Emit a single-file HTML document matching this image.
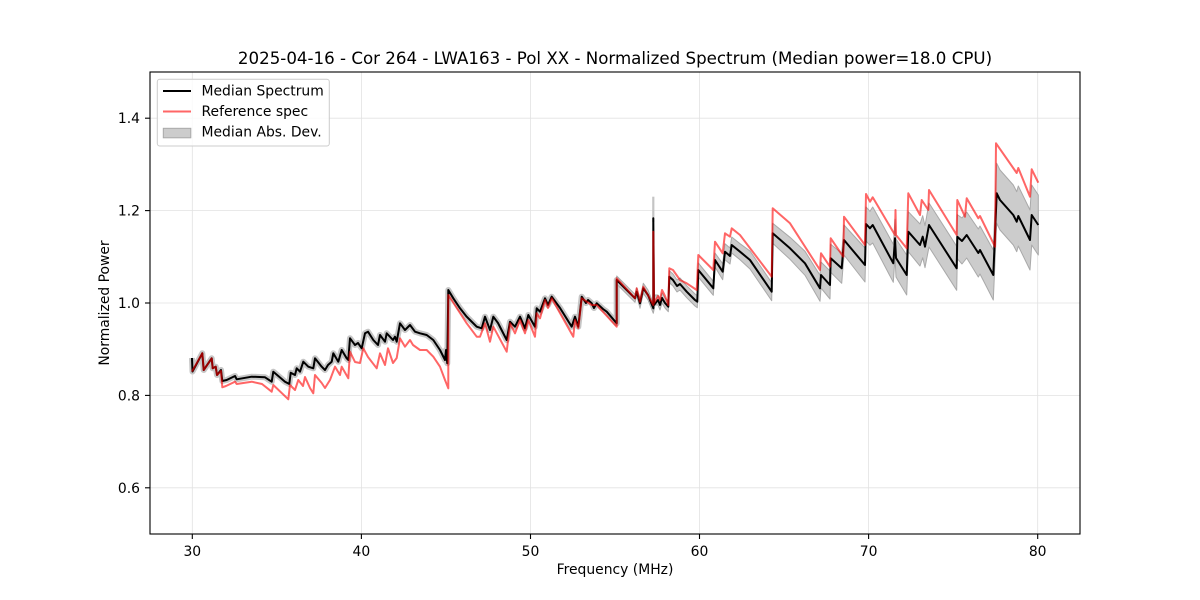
<!DOCTYPE html>
<html><head><meta charset="utf-8"><style>
html,body{margin:0;padding:0;background:#fff;}
svg{display:block;font-family:"DejaVu Sans","Liberation Sans",sans-serif;}
</style></head><body>
<svg width="1200" height="600" viewBox="0 0 1200 600" xmlns="http://www.w3.org/2000/svg">
<rect width="1200" height="600" fill="#fff"/>
<!-- grid -->
<g stroke="#e2e2e2" stroke-width="0.8">
<line x1="192.3" y1="72" x2="192.3" y2="534"/>
<line x1="361.4" y1="72" x2="361.4" y2="534"/>
<line x1="530.5" y1="72" x2="530.5" y2="534"/>
<line x1="699.5" y1="72" x2="699.5" y2="534"/>
<line x1="868.6" y1="72" x2="868.6" y2="534"/>
<line x1="1037.7" y1="72" x2="1037.7" y2="534"/>
<line x1="150" y1="487.8" x2="1080" y2="487.8"/>
<line x1="150" y1="395.4" x2="1080" y2="395.4"/>
<line x1="150" y1="303" x2="1080" y2="303"/>
<line x1="150" y1="210.6" x2="1080" y2="210.6"/>
<line x1="150" y1="118.2" x2="1080" y2="118.2"/>
</g>
<!-- MAD band early (stroke underlay) -->
<polyline fill="none" stroke="#c6c6c6" stroke-width="6" stroke-linejoin="round" points="192,358 192.5,371.5 202.3,353.3 203.7,370 211.7,358.3 212.7,368.3 215.7,366.7 217,375 221,370 222.3,381 226.7,380 235,376 236.7,379.3 251.7,376.7 265,377.3 271.7,381.7 273.3,371.7 285,381.7 289.3,384 290.7,372.7 295,375 296.7,368.3 300,371.7 303.3,361.7 308.3,366.7 313.3,368.3 315,358.3 321.7,366.7 325,370 328,365 331.7,361.7 333.3,353.3 338.3,361.7 341.7,350 346.7,358.3 348.3,360 350,338.3 355,345 358,343 361.7,348.3 365,333.3 368,331.7 373.3,340 378,345 380,335 385,341.7 386.7,333.3 393,340 395,336.7 396.7,341.7 400,323.3 405,330 410,325 415,331.7 420,333.3 426.7,335 433.3,340 440,350 445,360 446,350 447.3,363.3 448.3,290 453.3,298.3 460,308.3 466.7,316.7 470,320 476.7,326.7 481.7,328.3 485,316.7 490,330 493.3,316.7 498,323 506.7,340 510,321.7 515,326.7 520,316.7 525,328.3 528.3,315 535,326.7 536.7,308.3 540,311.7 545,298.3 548,305 551.7,296.7 560,308 571.7,326.7 575,316.7 578.3,326.7 581.7,296.7 586,303 588,300 591.7,303.3 594,308 596.7,303.3 603,309 606.7,311.7 616.7,323.3 616.7,280 626.7,290"/>
<!-- MAD band later (polygon) -->
<polygon fill="#cccccc" stroke="#a9a9a9" stroke-width="1" stroke-linejoin="round" points="616.7,276 626.7,286 635,294.3 636.7,287.7 640,298.3 643.3,283.3 648,290 653.3,303.3 655,295 658,295 660,300 662,293 665,298 668.3,301.7 669.3,270.7 673,274 677,280 680,278 686.7,285.7 695,294 697.3,295.7 698.3,263 713.3,281.3 715,253 722.7,263.7 725,243.7 730,248 731.7,237 740,243.7 750,251 771.7,282.7 772.7,223.3 790,237.3 805,251.3 820,275.3 821,262 830,271 830.7,244.3 841.7,253.3 844,225 865,248 866,207 870,211.3 872.7,207 893.3,244.3 895,219.3 896,239 906.7,255 908.3,211.7 920,224 922.7,215.7 925,225.7 929,203 956.7,246.3 957.3,214.7 962,218 966.7,212 978.3,229 980,226 993.3,250 996.7,163.3 1000,170 1013.3,185 1016.7,191.7 1018.3,186 1030,210 1031.7,185 1038.3,195 1038.3,255 1031.7,245 1030,270 1018.3,246 1016.7,251.7 1013.3,245 1000,230 996.7,223.3 993.3,300 980,274 978.3,277 966.7,258 962,264 957.3,258.7 956.7,290.3 929,247 925,267.7 922.7,257.7 920,266 908.3,251.7 906.7,295 896,277 895,257.3 893.3,282.3 872.7,243 870,245.3 866,241 865,282 844,255 841.7,283.3 830.7,272.3 830,299 821,288 820,301.3 805,275.3 790,259.3 772.7,243.3 771.7,300.7 750,269 740,259.7 731.7,253 730,264 725,259.7 722.7,279.7 715,267 713.3,295.3 698.3,277 697.3,307.7 695,306 686.7,297.7 680,290 677,292 673,286 669.3,282.7 668.3,311.7 665,308 662,303 660,310 658,305 655,305 653.3,313.3 648,300 643.3,293.3 640,308.3 636.7,295.7 635,302.3 626.7,294 616.7,284"/>
<line x1="653.3" y1="196.7" x2="653.3" y2="222" stroke="#c4c4c4" stroke-width="2.2"/>
<!-- Median spectrum -->
<polyline fill="none" stroke="#000" stroke-width="2" stroke-linejoin="round" points="192,358 192.5,371.5 202.3,353.3 203.7,370 211.7,358.3 212.7,368.3 215.7,366.7 217,375 221,370 222.3,381 226.7,380 235,376 236.7,379.3 251.7,376.7 265,377.3 271.7,381.7 273.3,371.7 285,381.7 289.3,384 290.7,372.7 295,375 296.7,368.3 300,371.7 303.3,361.7 308.3,366.7 313.3,368.3 315,358.3 321.7,366.7 325,370 328,365 331.7,361.7 333.3,353.3 338.3,361.7 341.7,350 346.7,358.3 348.3,360 350,338.3 355,345 358,343 361.7,348.3 365,333.3 368,331.7 373.3,340 378,345 380,335 385,341.7 386.7,333.3 393,340 395,336.7 396.7,341.7 400,323.3 405,330 410,325 415,331.7 420,333.3 426.7,335 433.3,340 440,350 445,360 446,350 447.3,363.3 448.3,290 453.3,298.3 460,308.3 466.7,316.7 470,320 476.7,326.7 481.7,328.3 485,316.7 490,330 493.3,316.7 498,323 506.7,340 510,321.7 515,326.7 520,316.7 525,328.3 528.3,315 535,326.7 536.7,308.3 540,311.7 545,298.3 548,305 551.7,296.7 560,308 571.7,326.7 575,316.7 578.3,326.7 581.7,296.7 586,303 588,300 591.7,303.3 594,308 596.7,303.3 603,309 606.7,311.7 616.7,323.3 616.7,280 626.7,290 635,298.3 636.7,291.7 640,303.3 643.3,288.3 648,295 653.3,308.3 653.3,218.3 654,305 658,300 660,305 662,298 665,303 668.3,306.7 669.3,276.7 673,280 677,286 680,284 686.7,291.7 695,300 697.3,301.7 698.3,270 713.3,288.3 715,260 722.7,271.7 725,251.7 730,256 731.7,245 740,251.7 750,260 771.7,291.7 772.7,233.3 790,248.3 805,263.3 820,288.3 821,275 830,285 830.7,258.3 841.7,268.3 844,240 865,265 866,224 870,228.3 872.7,225 893.3,263.3 895,238.3 896,258 906.7,275 908.3,231.7 920,245 922.7,236.7 925,246.7 929,225 956.7,268.3 957.3,236.7 962,241 966.7,235 978.3,253 980,250 993.3,275 996.7,193.3 1000,200 1013.3,215 1016.7,221.7 1018.3,216 1030,240 1031.7,215 1038.3,225"/>
<!-- Reference spectrum -->
<polyline fill="none" stroke="#ff0000" stroke-opacity="0.6" stroke-width="2" stroke-linejoin="round" points="192,371.5 202.3,353.3 203.7,370 211.7,358.3 212.7,368.3 215.7,366.7 217,375 221,371 222.3,387.3 226,386 235,381.7 236.7,384 251.7,381.7 262,384 271.7,391.7 273.3,385 288.3,399.3 290,385 295,390 298.3,380 303,386 305,377 310,388 313.3,393.3 315,375 321.7,383 325,388 330,380 335,366.7 340,375 341.7,366.7 348.3,378.3 350,351.7 355,362 360,363 363.3,348.3 368,357 376.7,368.3 380,353.3 385,365 388,348.3 393,363 396.7,358 400,338.3 405,346.7 410,340 413,345 420,350 426.7,350 433.3,356.7 440,366.7 445,380 448.3,388.3 448.3,295 460,313 466.7,323.3 476.7,336.7 480,336.7 485,323.3 490,341.7 493.3,326.7 506.7,351.7 510,323.3 515,333.3 520,320 525,333.3 528.3,320 535,336.7 536.7,313.3 540,318.3 545,300 548,308 551.7,298.3 573.3,336.7 575,320 578.3,328.3 581.7,298.3 591.7,305 596.7,305 616.7,326.7 616.7,278.3 635,298.3 636.7,288.3 640,301.7 643.3,286.7 653.3,305 653.3,231.7 654,303 658,296 660,300 662,290 665,296 668.3,305 669.3,268.3 673,270 680,280 686.7,283.3 696.7,290 698.3,255 713.3,270 715,241.7 722.7,253.3 725,233.3 730,236.7 731.7,228.3 740,235 771.7,276.7 772.7,208.3 790,223.3 820,270 821,253.3 830,266.7 830.7,238.3 843.3,256.7 844,216.7 865,245 866,194 870,201.7 872.7,197.3 895,235 895.5,210 896,235 906.7,248.3 908.3,193.3 920,215 921.7,200 928.3,210 929,190 956.7,235 957.3,200 965,216.7 966.7,198.3 978.3,218.3 980,216 995,246.7 996,143.3 1016.7,173 1018.3,168 1030,196.7 1031.7,169.3 1038.3,182.7"/>
<!-- axes frame -->
<rect x="150" y="72" width="930" height="462" fill="none" stroke="#000" stroke-width="1.1"/>
<!-- ticks -->
<g stroke="#000" stroke-width="1.1">
<line x1="192.3" y1="534" x2="192.3" y2="539"/>
<line x1="361.4" y1="534" x2="361.4" y2="539"/>
<line x1="530.5" y1="534" x2="530.5" y2="539"/>
<line x1="699.5" y1="534" x2="699.5" y2="539"/>
<line x1="868.6" y1="534" x2="868.6" y2="539"/>
<line x1="1037.7" y1="534" x2="1037.7" y2="539"/>
<line x1="145" y1="487.8" x2="150" y2="487.8"/>
<line x1="145" y1="395.4" x2="150" y2="395.4"/>
<line x1="145" y1="303" x2="150" y2="303"/>
<line x1="145" y1="210.6" x2="150" y2="210.6"/>
<line x1="145" y1="118.2" x2="150" y2="118.2"/>
</g>
<g font-size="13.9" fill="#000" text-anchor="middle">
<text x="192.3" y="556">30</text>
<text x="361.4" y="556">40</text>
<text x="530.5" y="556">50</text>
<text x="699.5" y="556">60</text>
<text x="868.6" y="556">70</text>
<text x="1037.7" y="556">80</text>
</g>
<g font-size="13.9" fill="#000" text-anchor="end">
<text x="140" y="492.8">0.6</text>
<text x="140" y="400.4">0.8</text>
<text x="140" y="308">1.0</text>
<text x="140" y="215.6">1.2</text>
<text x="140" y="123.2">1.4</text>
</g>
<text x="615" y="574" font-size="13.9" text-anchor="middle">Frequency (MHz)</text>
<text transform="translate(109,303) rotate(-90)" font-size="13.9" text-anchor="middle">Normalized Power</text>
<text x="615" y="64" font-size="16.67" text-anchor="middle">2025-04-16 - Cor 264 - LWA163 - Pol XX - Normalized Spectrum (Median power=18.0 CPU)</text>
<!-- legend -->
<rect x="157.3" y="79.3" width="172" height="66.7" rx="2.5" ry="2.5" fill="#fff" fill-opacity="0.8" stroke="#cccccc" stroke-width="1"/>
<line x1="163" y1="91" x2="191" y2="91" stroke="#000" stroke-width="2"/>
<line x1="163" y1="111.5" x2="191" y2="111.5" stroke="#ff0000" stroke-opacity="0.6" stroke-width="2"/>
<rect x="163.3" y="128.3" width="27.5" height="9.5" fill="#cccccc" stroke="#a9a9a9" stroke-width="1"/>
<g font-size="13.9" fill="#000">
<text x="201.5" y="95.7">Median Spectrum</text>
<text x="201.5" y="116">Reference spec</text>
<text x="201.5" y="136.5">Median Abs. Dev.</text>
</g>
</svg>
</body></html>
